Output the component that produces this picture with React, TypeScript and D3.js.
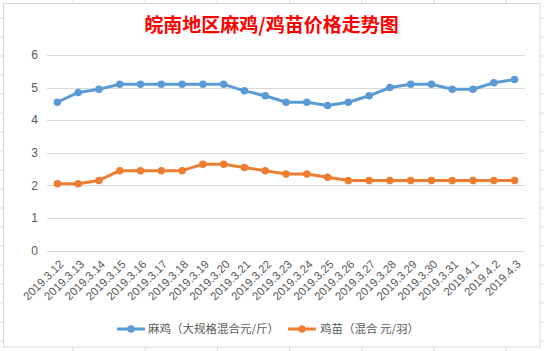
import React from "react";
import * as d3 from "d3";

const categories = [
  "2019.3.12", "2019.3.13", "2019.3.14", "2019.3.15", "2019.3.16", "2019.3.17",
  "2019.3.18", "2019.3.19", "2019.3.20", "2019.3.21", "2019.3.22", "2019.3.23",
  "2019.3.24", "2019.3.25", "2019.3.26", "2019.3.27", "2019.3.28", "2019.3.29",
  "2019.3.30", "2019.3.31", "2019.4.1", "2019.4.2", "2019.4.3",
];
const chickenPrice = [
  4.55, 4.85, 4.95, 5.1, 5.1, 5.1, 5.1, 5.1, 5.1, 4.9, 4.75, 4.55,
  4.55, 4.45, 4.55, 4.75, 5.0, 5.1, 5.1, 4.95, 4.95, 5.15, 5.25,
];
const chickPrice = [
  2.05, 2.05, 2.15, 2.45, 2.45, 2.45, 2.45, 2.65, 2.65, 2.55, 2.45, 2.35,
  2.35, 2.25, 2.15, 2.15, 2.15, 2.15, 2.15, 2.15, 2.15, 2.15, 2.15,
];
const yTicks = [0, 1, 2, 3, 4, 5, 6];
const seriesNames = ["麻鸡（大规格混合元/斤）", "鸡苗（混合 元/羽）"];
const title = "皖南地区麻鸡/鸡苗价格走势图";

const W = 544;
const H = 351;
const CJK = "'Noto Sans CJK SC', 'Noto Sans', sans-serif";

export default function App() {
  const x = d3.scaleBand<string>().domain(categories).range([47, 525]);
  const y = d3.scaleLinear().domain([0, 6]).range([250.5, 55]);
  const cx = (c: string) => (x(c) as number) + x.bandwidth() / 2;
  const line = d3
    .line<number>()
    .x((_, i) => cx(categories[i]))
    .y((d) => y(d));

  const series = [
    { name: seriesNames[0], values: chickenPrice, color: "#5B9BD5" },
    { name: seriesNames[1], values: chickPrice, color: "#ED7D31" },
  ];

  const colLines = d3.range(0, 8).map((k) => 73 + k * 72.2);
  const rowLines = d3.range(0, 19).map((k) => 18 + k * 19);
  const legendPos = [
    { lx: 117, tx: 148 },
    { lx: 288, tx: 320 },
  ];

  return (
    <svg
      width={W}
      height={H}
      style={{ position: "absolute", left: 0, top: 0, background: "#fff" }}
    >
      {/* spreadsheet grid behind */}
      {colLines.map((cxl, i) => (
        <line key={"c" + i} x1={cxl} x2={cxl} y1={0} y2={H} stroke="#D9D9D9" strokeWidth={1} />
      ))}
      {rowLines.map((ry, i) => (
        <line key={"r" + i} x1={0} x2={W} y1={ry} y2={ry} stroke="#D9D9D9" strokeWidth={1} />
      ))}
      <rect x={3.5} y={3.5} width={536.5} height={343.5} fill="#fff" stroke="#D9D9D9" strokeWidth={1} />

      <text
        x={271.5}
        y={32}
        textAnchor="middle"
        fill="#FF0000"
        fontWeight="bold"
        fontSize={19}
        fontFamily={CJK}
      >
        {title}
      </text>

      {yTicks.map((t) => (
        <g key={t}>
          <line x1={47} x2={525} y1={Math.round(y(t)) + 0.5} y2={Math.round(y(t)) + 0.5} stroke="#D9D9D9" strokeWidth={1} />
          <text
            x={38}
            y={y(t)}
            dy="0.35em"
            textAnchor="end"
            fill="#595959"
            fontSize={12}
            fontFamily="'Liberation Sans', Arial, sans-serif"
          >
            {t}
          </text>
        </g>
      ))}

      {categories.map((c) => (
        <text
          key={c}
          transform={`translate(${cx(c) + 4},${262}) rotate(-45)`}
          textAnchor="end"
          dy="0.35em"
          fill="#595959"
          fontSize={11.5}
          fontFamily="'Liberation Sans', Arial, sans-serif"
        >
          {c}
        </text>
      ))}

      {series.map((s) => (
        <g key={s.name}>
          <path d={line(s.values) || ""} fill="none" stroke={s.color} strokeWidth={3} strokeLinejoin="round" strokeLinecap="round" />
          {s.values.map((v, i) => (
            <circle key={i} cx={cx(categories[i])} cy={y(v)} r={3.75} fill={s.color} />
          ))}
        </g>
      ))}

      {series.map((s, i) => (
        <g key={"lg" + i}>
          <line x1={legendPos[i].lx} x2={legendPos[i].lx + 28} y1={329} y2={329} stroke={s.color} strokeWidth={3} />
          <circle cx={legendPos[i].lx + 14} cy={329} r={3.75} fill={s.color} />
          <text x={legendPos[i].tx} y={329} dy="0.35em" fill="#595959" fontSize={11.5} fontFamily={CJK}>
            {s.name}
          </text>
        </g>
      ))}
    </svg>
  );
}
